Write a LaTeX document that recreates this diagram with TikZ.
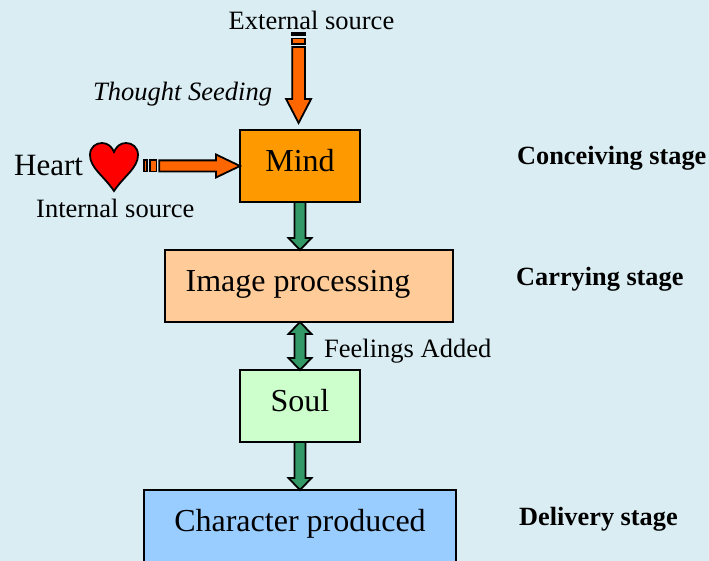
\documentclass[tikz,border=0pt]{standalone}
\usepackage{fontspec}
\setmainfont{Liberation Serif}
\usepackage{xcolor}
\usetikzlibrary{positioning, calc}

\definecolor{PageBlue}{HTML}{DAEDF3}
\definecolor{MindOrange}{HTML}{FF9900}
\definecolor{ImagePeach}{HTML}{FFCC99}
\definecolor{SoulGreen}{HTML}{CCFFCC}
\definecolor{CharBlue}{HTML}{99CCFF}
\definecolor{ArrowOrange}{HTML}{FF6600}
\definecolor{ArrowGreen}{HTML}{339966}
\definecolor{TailBrown}{HTML}{993300}

% Arrow with a wide body: style, from, to, half body, half head, head length
\newcommand{\BlockArrow}[6]{
	\draw[#1] ($(#2)!#4!90:(#3)$) -- ($(#3)!#6!(#2)!#4!-90:(#2)$) -- ($(#3)!#6!(#2)!#5!-90:(#2)$) -- (#3)
		-- ($(#3)!#6!(#2)!#5!90:(#2)$) -- ($(#3)!#6!(#2)!#4!90:(#2)$) -- ($(#2)!#4!-90:(#3)$) -- cycle;
}
% Same with a head on each end
\newcommand{\DoubleArrow}[6]{
	\draw[#1] (#2) -- ($(#2)!#6!(#3)!#5!90:(#3)$) -- ($(#2)!#6!(#3)!#4!90:(#3)$)
		-- ($(#3)!#6!(#2)!#4!-90:(#2)$) -- ($(#3)!#6!(#2)!#5!-90:(#2)$) -- (#3)
		-- ($(#3)!#6!(#2)!#5!90:(#2)$) -- ($(#3)!#6!(#2)!#4!90:(#2)$)
		-- ($(#2)!#6!(#3)!#4!-90:(#3)$) -- ($(#2)!#6!(#3)!#5!-90:(#3)$) -- cycle;
}

\begin{document}
\begin{tikzpicture}[x=1pt, y=-1pt,
		BoxNode/.style={rectangle, draw=black, line width=1.8pt, outer sep=0pt, minimum height=72pt,
			text height=20pt, text depth=9pt, font=\fontsize{32}{36}\selectfont},
		SmallText/.style={anchor=base west, inner sep=0pt, font=\fontsize{26.5}{30}\selectfont},
		StageText/.style={anchor=base west, inner sep=0pt, font=\fontsize{26.3}{30}\selectfont\bfseries},
		OrangeArrow/.style={draw=black, fill=ArrowOrange, line width=1.8pt, line join=miter},
		GreenArrow/.style={draw=black, fill=ArrowGreen, line width=1.8pt, line join=miter}]

	\clip (0, 0) rectangle (709, 561);
	\fill[PageBlue] (0, 0) rectangle (709, 561);

	% Boxes
	\node[BoxNode, fill=MindOrange, minimum width=120pt] (Mind) at (300, 166) {Mind};
	\node[BoxNode, fill=ImagePeach, minimum width=288pt, below=48pt of Mind, xshift=9pt] (ImageBox) {Image processing\hspace{22pt}\mbox{}};
	\node[BoxNode, fill=SoulGreen, minimum width=120pt, below=48pt of ImageBox, xshift=-9pt] (SoulBox) {Soul};
	\node[BoxNode, fill=CharBlue, minimum width=312pt, below=48pt of SoulBox] (CharBox) {Character produced};

	% Heart
	\draw[fill=red, line width=1.8pt, line join=miter] (114, 191) .. controls (104, 176) and (90, 168) .. (90, 155)
		.. controls (90, 147) and (96, 143) .. (102, 143) .. controls (108, 143) and (112, 147) .. (114, 152)
		.. controls (116, 147) and (120, 143) .. (126, 143) .. controls (132, 143) and (138, 147) .. (138, 155)
		.. controls (138, 168) and (124, 176) .. (114, 191) -- cycle;

	% Labels
	\node[SmallText] (External) at (228.5, 30) {External source};
	\node[SmallText, font=\fontsize{26.5}{30}\selectfont\itshape] (Seeding) at (93, 101) {Thought Seeding};
	\node[anchor=base west, inner sep=0pt, font=\fontsize{31}{36}\selectfont] (Heart) at (14, 176) {Heart};
	\node[SmallText] (Internal) at (36, 218) {Internal source};
	\node[SmallText] (Feelings) at (324, 357) {Feelings Added};
	\node[StageText] (Conceiving) at (517, 165) {Conceiving stage};
	\node[StageText] (Carrying) at (516, 285) {Carrying stage};
	\node[StageText] (Delivery) at (519, 525) {Delivery stage};

	% Source arrows
	\coordinate (ExtTail) at (298.6, 47);
	\coordinate (ExtTip) at (298.6, 123);
	\coordinate (HeartTail) at (159.3, 166);

	\draw[OrangeArrow, fill=TailBrown] (292.2, 32.9) rectangle (305.1, 35.1);
	\draw[OrangeArrow] (292.2, 38.6) rectangle (305.1, 44);
	\BlockArrow{OrangeArrow}{ExtTail}{ExtTip}{6.4pt}{12.5pt}{24pt}

	\draw[OrangeArrow] (144.2, 160.2) rectangle (146.8, 171.6);
	\draw[OrangeArrow] (149.9, 160.2) rectangle (156.4, 171.6);
	\BlockArrow{OrangeArrow}{HeartTail}{Mind.west}{5.6pt}{11.5pt}{24pt}

	% Lines between the boxes
	\BlockArrow{GreenArrow}{Mind.south}{ImageBox.north -| Mind.south}{5.5pt}{11.5pt}{12pt}
	\DoubleArrow{GreenArrow}{SoulBox.north |- ImageBox.south}{SoulBox.north}{5.5pt}{11.5pt}{12pt}
	\BlockArrow{GreenArrow}{SoulBox.south}{CharBox.north}{5.5pt}{11.5pt}{12pt}
\end{tikzpicture}
\end{document}
